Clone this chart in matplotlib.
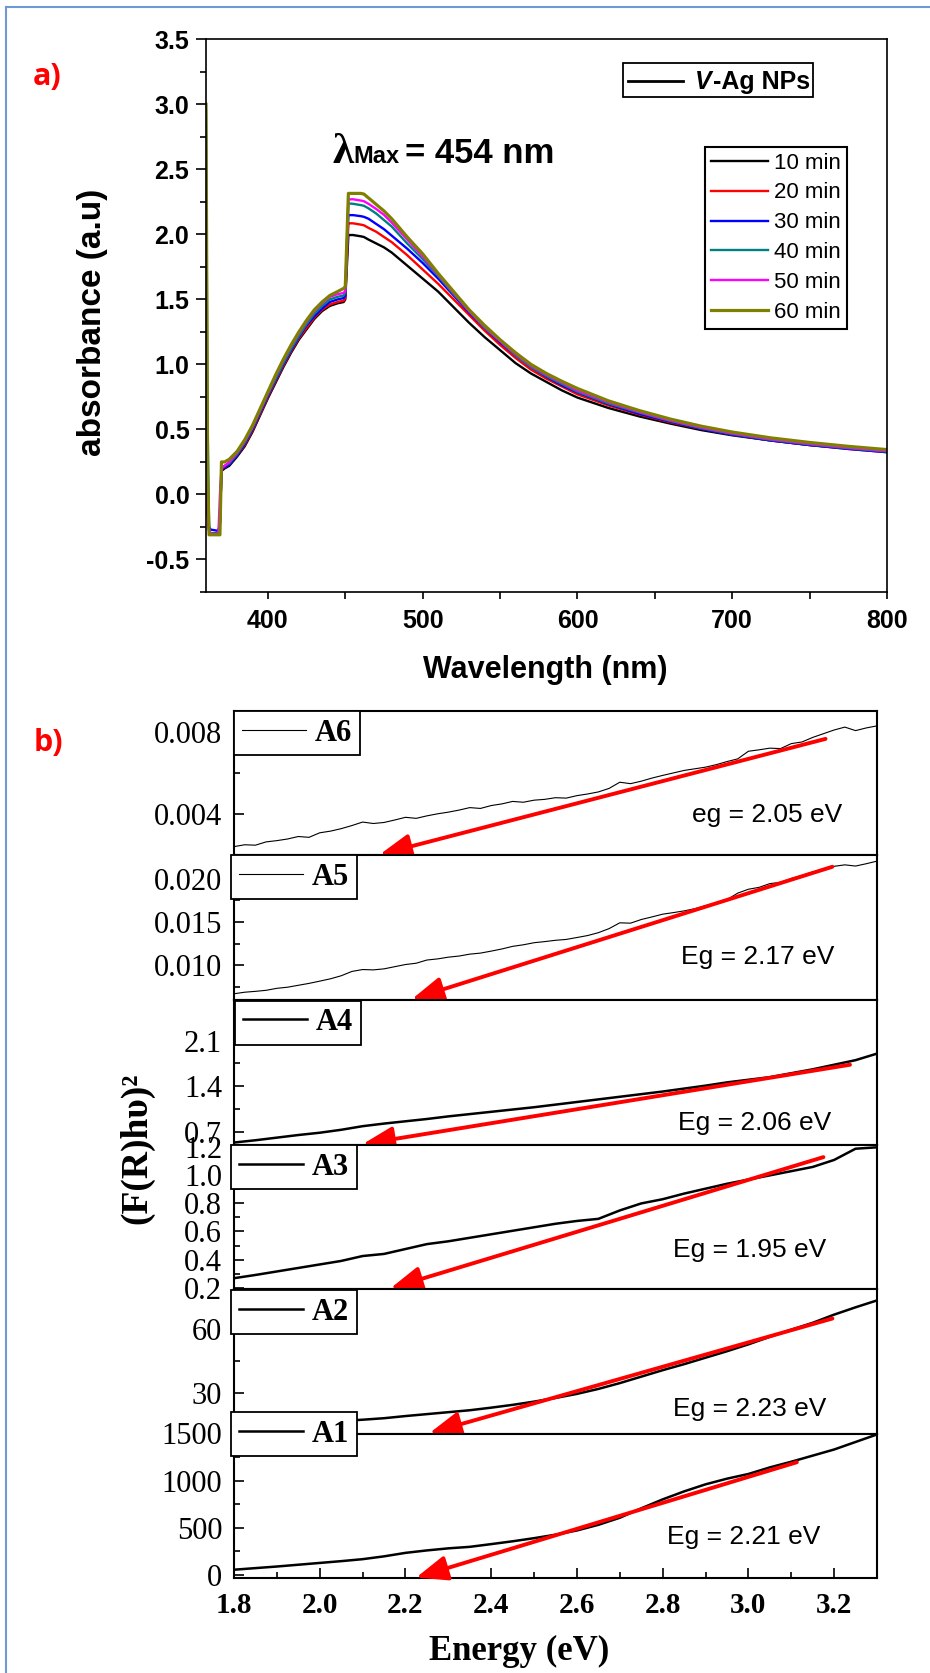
import matplotlib
matplotlib.use("Agg")
import matplotlib.pyplot as plt
from matplotlib.ticker import MultipleLocator, FormatStrFormatter
from matplotlib.lines import Line2D
from matplotlib.patches import Rectangle

W, H, DPI = 930, 1673, 100

# ---- panel a: UV-vis absorbance of V-Ag NPs ----
wavelength = [360, 361, 362, 363, 368, 369, 370, 372, 375,
              380, 385, 390, 395, 400, 405, 410, 415, 420, 425, 430, 435, 440, 445,
              449, 450, 452, 455, 460, 462, 465, 470, 475, 480,
              490, 500, 510, 520, 530, 540, 550, 560, 570, 580, 590, 600,
              620, 640, 660, 680, 700, 725, 750, 775, 800]
abs_10 = [0.19, -0.15, -0.28, -0.30, -0.30, -0.22, 0.18, 0.20, 0.22,
          0.29, 0.37, 0.48, 0.61, 0.74, 0.86, 0.98, 1.09, 1.19, 1.27, 1.35, 1.41, 1.45, 1.47,
          1.48, 1.50, 1.995, 1.995, 1.985, 1.98, 1.96, 1.93, 1.90, 1.86,
          1.76, 1.66, 1.56, 1.44, 1.32, 1.21, 1.11, 1.01, 0.93, 0.865, 0.80, 0.745,
          0.665, 0.60, 0.545, 0.495, 0.455, 0.415, 0.38, 0.355, 0.33]
abs_20 = [0.20, -0.10, -0.27, -0.30, -0.30, -0.22, 0.19, 0.21, 0.23,
          0.30, 0.38, 0.49, 0.62, 0.75, 0.87, 0.99, 1.10, 1.20, 1.28, 1.36, 1.42, 1.46, 1.48,
          1.49, 1.51, 2.085, 2.085, 2.075, 2.07, 2.05, 2.02, 1.98, 1.94,
          1.84, 1.73, 1.62, 1.50, 1.38, 1.26, 1.15, 1.05, 0.96, 0.89, 0.83, 0.77,
          0.685, 0.615, 0.555, 0.505, 0.46, 0.415, 0.38, 0.35, 0.325]
abs_30 = [0.43, 0.0, -0.25, -0.27, -0.28, -0.22, 0.19, 0.21, 0.23,
          0.30, 0.39, 0.50, 0.63, 0.76, 0.88, 1.00, 1.11, 1.21, 1.30, 1.37, 1.43, 1.48, 1.50,
          1.51, 1.53, 2.148, 2.148, 2.14, 2.135, 2.12, 2.08, 2.04, 1.99,
          1.89, 1.78, 1.66, 1.53, 1.40, 1.28, 1.17, 1.07, 0.98, 0.905, 0.84, 0.785,
          0.695, 0.62, 0.56, 0.505, 0.46, 0.415, 0.38, 0.35, 0.325]
abs_40 = [2.95, 0.62, -0.28, -0.30, -0.30, -0.20, 0.20, 0.22, 0.24,
          0.31, 0.40, 0.51, 0.64, 0.77, 0.89, 1.01, 1.12, 1.22, 1.31, 1.39, 1.45, 1.50, 1.52,
          1.53, 1.55, 2.238, 2.235, 2.225, 2.22, 2.20, 2.16, 2.11, 2.06,
          1.93, 1.81, 1.68, 1.54, 1.41, 1.28, 1.18, 1.07, 0.98, 0.91, 0.85, 0.79,
          0.70, 0.63, 0.565, 0.51, 0.465, 0.42, 0.385, 0.355, 0.33]
abs_50 = [0.20, -0.10, -0.28, -0.30, -0.31, 0.0, 0.20, 0.22, 0.25,
          0.32, 0.41, 0.52, 0.65, 0.78, 0.91, 1.03, 1.14, 1.24, 1.33, 1.41, 1.47, 1.52, 1.54,
          1.55, 1.57, 2.269, 2.27, 2.26, 2.255, 2.235, 2.195, 2.15, 2.09,
          1.96, 1.83, 1.69, 1.55, 1.41, 1.29, 1.18, 1.08, 0.99, 0.92, 0.86, 0.80,
          0.71, 0.635, 0.57, 0.515, 0.47, 0.425, 0.39, 0.36, 0.335]
abs_60 = [3.00, 0.19, -0.31, -0.31, -0.31, -0.31, 0.25, 0.25, 0.27,
          0.33, 0.42, 0.53, 0.66, 0.79, 0.92, 1.04, 1.15, 1.25, 1.34, 1.42, 1.48, 1.53, 1.56,
          1.585, 1.60, 2.315, 2.315, 2.315, 2.31, 2.28, 2.23, 2.18, 2.12,
          1.98, 1.85, 1.70, 1.56, 1.42, 1.30, 1.19, 1.09, 1.00, 0.93, 0.87, 0.815,
          0.72, 0.645, 0.58, 0.525, 0.48, 0.435, 0.40, 0.37, 0.345]
times = ["10 min", "20 min", "30 min", "40 min", "50 min", "60 min"]
time_colors = ["black", "#FF0000", "#0000FF", "#008080", "#FF00FF", "#808000"]

# ---- panel b: Tauc plots ----
energy_fine = [1.800, 1.825, 1.850, 1.875, 1.900, 1.925, 1.950, 1.975, 2.000, 2.025,
               2.050, 2.075, 2.100, 2.125, 2.150, 2.175, 2.200, 2.225, 2.250, 2.275,
               2.300, 2.325, 2.350, 2.375, 2.400, 2.425, 2.450, 2.475, 2.500, 2.525,
               2.550, 2.575, 2.600, 2.625, 2.650, 2.675, 2.700, 2.725, 2.750, 2.775,
               2.800, 2.825, 2.850, 2.875, 2.900, 2.925, 2.950, 2.975, 3.000, 3.025,
               3.050, 3.075, 3.100, 3.125, 3.150, 3.175, 3.200, 3.225, 3.250, 3.275,
               3.300]
energy = [1.80, 1.85, 1.90, 1.95, 2.00, 2.05, 2.10, 2.15, 2.20, 2.25, 2.30,
          2.35, 2.40, 2.45, 2.50, 2.55, 2.60, 2.65, 2.70, 2.75, 2.80, 2.85,
          2.90, 2.95, 3.00, 3.05, 3.10, 3.15, 3.20, 3.25, 3.30]
a6 = [0.00243, 0.00252, 0.00250, 0.00266, 0.00272, 0.00280, 0.00292, 0.00288, 0.00310, 0.00318,
      0.00330, 0.00345, 0.00362, 0.00355, 0.00360, 0.00372, 0.00385, 0.00380, 0.00392, 0.00402,
      0.00410, 0.00420, 0.00432, 0.00428, 0.00442, 0.00450, 0.00462, 0.00458, 0.00468, 0.00472,
      0.00480, 0.00478, 0.00490, 0.00498, 0.00508, 0.00525, 0.00555, 0.00548, 0.00560, 0.00575,
      0.00588, 0.00600, 0.00612, 0.00620, 0.00628, 0.00640, 0.00655, 0.00668, 0.00705, 0.00712,
      0.00720, 0.00718, 0.00742, 0.00750, 0.00772, 0.00790, 0.00808, 0.00822, 0.00805, 0.00818,
      0.00828]
a5 = [0.00672, 0.00690, 0.00700, 0.00712, 0.00735, 0.00748, 0.00770, 0.00792, 0.00818, 0.00845,
      0.00880, 0.00930, 0.00952, 0.00948, 0.00960, 0.00985, 0.01010, 0.01025, 0.01062, 0.01075,
      0.01095, 0.01108, 0.01130, 0.01142, 0.01165, 0.01190, 0.01220, 0.01238, 0.01262, 0.01275,
      0.01290, 0.01300, 0.01322, 0.01345, 0.01378, 0.01425, 0.01492, 0.01488, 0.01530, 0.01560,
      0.01592, 0.01610, 0.01630, 0.01655, 0.01690, 0.01718, 0.01760, 0.01835, 0.01880, 0.01902,
      0.01945, 0.01960, 0.02005, 0.02040, 0.02080, 0.02100, 0.02145, 0.02162, 0.02148, 0.02175,
      0.02205]
a4 = [0.54, 0.575, 0.615, 0.655, 0.69, 0.735, 0.79, 0.83, 0.865, 0.90, 0.94,
      0.975, 1.01, 1.045, 1.08, 1.12, 1.16, 1.20, 1.24, 1.28, 1.32, 1.365,
      1.41, 1.46, 1.50, 1.54, 1.60, 1.66, 1.73, 1.80, 1.90]
a3 = [0.267, 0.29, 0.315, 0.34, 0.365, 0.39, 0.425, 0.44, 0.475, 0.51, 0.53,
      0.555, 0.58, 0.605, 0.63, 0.655, 0.675, 0.69, 0.75, 0.80, 0.83, 0.87,
      0.905, 0.94, 0.97, 1.00, 1.03, 1.06, 1.11, 1.19, 1.20]
a2 = [14.5, 15.0, 15.5, 16.0, 16.6, 17.2, 17.8, 18.5, 19.5, 20.4, 21.3,
      22.2, 23.4, 24.7, 26.2, 27.9, 29.8, 32.1, 34.8, 37.8, 40.8, 43.6,
      46.6, 49.6, 52.8, 56.3, 59.6, 62.8, 66.6, 70.0, 73.2]
a1 = [53, 70, 87, 106, 125, 144, 165, 195, 232, 258, 280,
      296, 325, 355, 388, 425, 470, 530, 605, 705, 800, 885,
      960, 1020, 1070, 1140, 1200, 1265, 1330, 1410, 1490]
samples = ["A6", "A5", "A4", "A3", "A2", "A1"]
eg_labels = ["eg = 2.05 eV", "Eg = 2.17 eV", "Eg = 2.06 eV",
             "Eg = 1.95 eV", "Eg = 2.23 eV", "Eg = 2.21 eV"]
# red fit arrows: (energy, value) of tail and head
fit_from = [(3.18, 0.00765), (3.196, 0.0214), (3.237, 1.73),
            (3.175, 1.13), (3.196, 64.8), (3.113, 1195)]
fit_to = [(2.14, 0.00205), (2.215, 0.0061), (2.10, 0.515),
          (2.165, 0.195), (2.256, 11.6), (2.225, -30)]


def fx(px):
    return px / W


def fy(py):
    return 1 - py / H


fig = plt.figure(figsize=(W / DPI, H / DPI), dpi=DPI)

# light blue frame (top and left)
border = "#7098D2"
fig.add_artist(Line2D([fx(6), fx(6)], [fy(7), fy(H)], color=border, lw=1.5))
fig.add_artist(Line2D([fx(6), fx(W)], [fy(7), fy(7)], color=border, lw=1.5))

# ================= panel a =================
axa = fig.add_axes([fx(206), fy(592), fx(887) - fx(206), fy(39.3) - fy(592)])
series = [abs_10, abs_20, abs_30, abs_40, abs_50, abs_60]
lines = []
for vals, col in zip(series, time_colors):
    lw = 2.3 if col == "#808000" else 1.7
    ln, = axa.plot(wavelength, vals, color=col, lw=lw)
    lines.append(ln)
axa.set_xlim(360, 800)
axa.set_ylim(-0.75, 3.5)
axa.xaxis.set_major_locator(MultipleLocator(100))
axa.xaxis.set_minor_locator(MultipleLocator(50))
axa.yaxis.set_major_locator(MultipleLocator(0.5))
axa.yaxis.set_minor_locator(MultipleLocator(0.25))
axa.yaxis.set_major_formatter(FormatStrFormatter("%.1f"))
axa.tick_params(which="both", direction="out", width=1.2)
axa.tick_params(axis="y", which="major", length=7, pad=5)
axa.tick_params(axis="y", which="minor", length=4.3)
axa.tick_params(axis="x", which="both", length=5, pad=7)
for sp in axa.spines.values():
    sp.set_linewidth(1.2)
plt.setp(axa.get_xticklabels() + axa.get_yticklabels(),
         family="Liberation Sans", fontweight="bold", fontsize=18)

fig.text(fx(93), fy(322), "absorbance (a.u)", rotation=90, ha="center", va="center",
         family="Liberation Sans", fontweight="bold", fontsize=24)
fig.text(fx(545), fy(670), "Wavelength (nm)", ha="center", va="center",
         family="Liberation Sans", fontweight="bold", fontsize=22)

# lambda max annotation
fig.text(fx(332), fy(163), "\u03bb", ha="left", va="baseline",
         family="Liberation Serif", fontweight="bold", fontsize=31)
fig.text(fx(353), fy(163), "Max", ha="left", va="baseline",
         family="Liberation Sans", fontweight="bold", fontsize=17)
fig.text(fx(405), fy(163), "= 454 nm", ha="left", va="baseline",
         family="Liberation Sans", fontweight="bold", fontsize=25)

# V-Ag NPs key
fig.add_artist(Rectangle((fx(623), fy(97)), fx(813) - fx(623), fy(63) - fy(97),
                         transform=fig.transFigure, fill=True, facecolor="white",
                         edgecolor="black", lw=1.3))
fig.add_artist(Line2D([fx(628), fx(683)], [fy(80.5), fy(80.5)], color="black", lw=2))
fig.text(fx(695), fy(89), "V", ha="left", va="baseline", style="italic",
         family="Liberation Sans", fontweight="bold", fontsize=18)
fig.text(fx(713), fy(89), "-Ag NPs", ha="left", va="baseline",
         family="Liberation Sans", fontweight="bold", fontsize=18)

leg = axa.legend(lines, times, loc="upper left", bbox_to_anchor=(fx(705), fy(147)),
                 bbox_transform=fig.transFigure, fancybox=False, edgecolor="black",
                 framealpha=1, prop={"family": "Liberation Sans", "size": 16},
                 handlelength=2.6, handletextpad=0.27, labelspacing=0.4,
                 borderpad=0.25, borderaxespad=0)
leg.get_frame().set_linewidth(1.5)

fig.text(fx(47), fy(77), "a)", ha="center", va="center", color="#FF0000",
         family="Open Sans", fontweight="bold", fontsize=22)

# ================= panel b =================
bounds = [711, 855.5, 1000, 1144.5, 1289, 1433.5, 1578]
xdata = [energy_fine, energy_fine, energy, energy, energy, energy]
ydata = [a6, a5, a4, a3, a2, a1]
ylims = [(0.0020, 0.0090), (0.0060, 0.0227), (0.51, 2.72),
         (0.19, 1.22), (11.4, 78.5), (-35, 1500)]
ymajor = [0.004, 0.005, 0.7, 0.2, 30, 500]
yfmt = ["%.3f", "%.3f", "%.1f", "%.1f", "%d", "%d"]
line_w = [0.8, 0.8, 1.8, 1.8, 1.8, 1.8]
legend_xy = [(234, 711), (231, 855), (235, 1000.5), (231, 1145), (231, 1290), (231, 1412)]
eg_xy = [(767, 815), (758, 957), (755, 1123), (750, 1250), (750, 1409), (744, 1537)]

for i, name in enumerate(samples):
    top, bot = bounds[i], bounds[i + 1]
    ax = fig.add_axes([fx(234), fy(bot), fx(877) - fx(234), fy(top) - fy(bot)])
    ln, = ax.plot(xdata[i], ydata[i], color="black", lw=line_w[i])
    ax.set_xlim(1.8, 3.3)
    ax.set_ylim(*ylims[i])
    ax.yaxis.set_major_locator(MultipleLocator(ymajor[i]))
    ax.yaxis.set_minor_locator(MultipleLocator(ymajor[i] / 2))
    ax.yaxis.set_major_formatter(FormatStrFormatter(yfmt[i]))
    ax.tick_params(axis="y", which="both", direction="in", width=1.2, pad=8.5)
    ax.tick_params(axis="y", which="major", length=7)
    ax.tick_params(axis="y", which="minor", length=4)
    if name == "A1":
        ax.xaxis.set_major_locator(MultipleLocator(0.2))
        ax.xaxis.set_minor_locator(MultipleLocator(0.1))
        ax.xaxis.set_major_formatter(FormatStrFormatter("%.1f"))
        ax.tick_params(axis="x", which="both", direction="in", width=1.2, pad=10)
        ax.tick_params(axis="x", which="major", length=7)
        ax.tick_params(axis="x", which="minor", length=4)
        plt.setp(ax.get_xticklabels(), family="Liberation Serif",
                 fontweight="bold", fontsize=21)
    else:
        ax.tick_params(axis="x", which="both", bottom=False, labelbottom=False)
    plt.setp(ax.get_yticklabels(), family="Liberation Serif", fontsize=22)
    for sp in ax.spines.values():
        sp.set_linewidth(1.5)

    ax.annotate("", xy=fit_to[i], xytext=fit_from[i], annotation_clip=False,
                arrowprops=dict(arrowstyle="-|>,head_length=0.95,head_width=0.38",
                                color="#FF0000", lw=2.8, mutation_scale=20,
                                shrinkA=0, shrinkB=0), zorder=4)

    lx, ly = legend_xy[i]
    lg = ax.legend([ln], [name], loc="upper left", bbox_to_anchor=(fx(lx), fy(ly)),
                   bbox_transform=fig.transFigure, fancybox=False, edgecolor="black",
                   framealpha=1,
                   prop={"family": "Liberation Serif", "weight": "bold", "size": 22},
                   handlelength=2.1, handletextpad=0.3, borderpad=0.25, borderaxespad=0)
    lg.get_frame().set_linewidth(1.3)

    ex, ey = eg_xy[i]
    fig.text(fx(ex), fy(ey), eg_labels[i], ha="center", va="center",
             family="Liberation Sans", fontsize=19)

fig.text(fx(137), fy(1148), "(F(R)h\u03c5)\u00b2", rotation=90, ha="center", va="center",
         family="Liberation Serif", fontweight="bold", fontsize=27)
fig.text(fx(519), fy(1651), "Energy (eV)", ha="center", va="center",
         family="Liberation Serif", fontweight="bold", fontsize=25)
fig.text(fx(48), fy(743), "b)", ha="center", va="center", color="#FF0000",
         family="Open Sans", fontweight="bold", fontsize=22)

fig.savefig("out.png", dpi=DPI)
